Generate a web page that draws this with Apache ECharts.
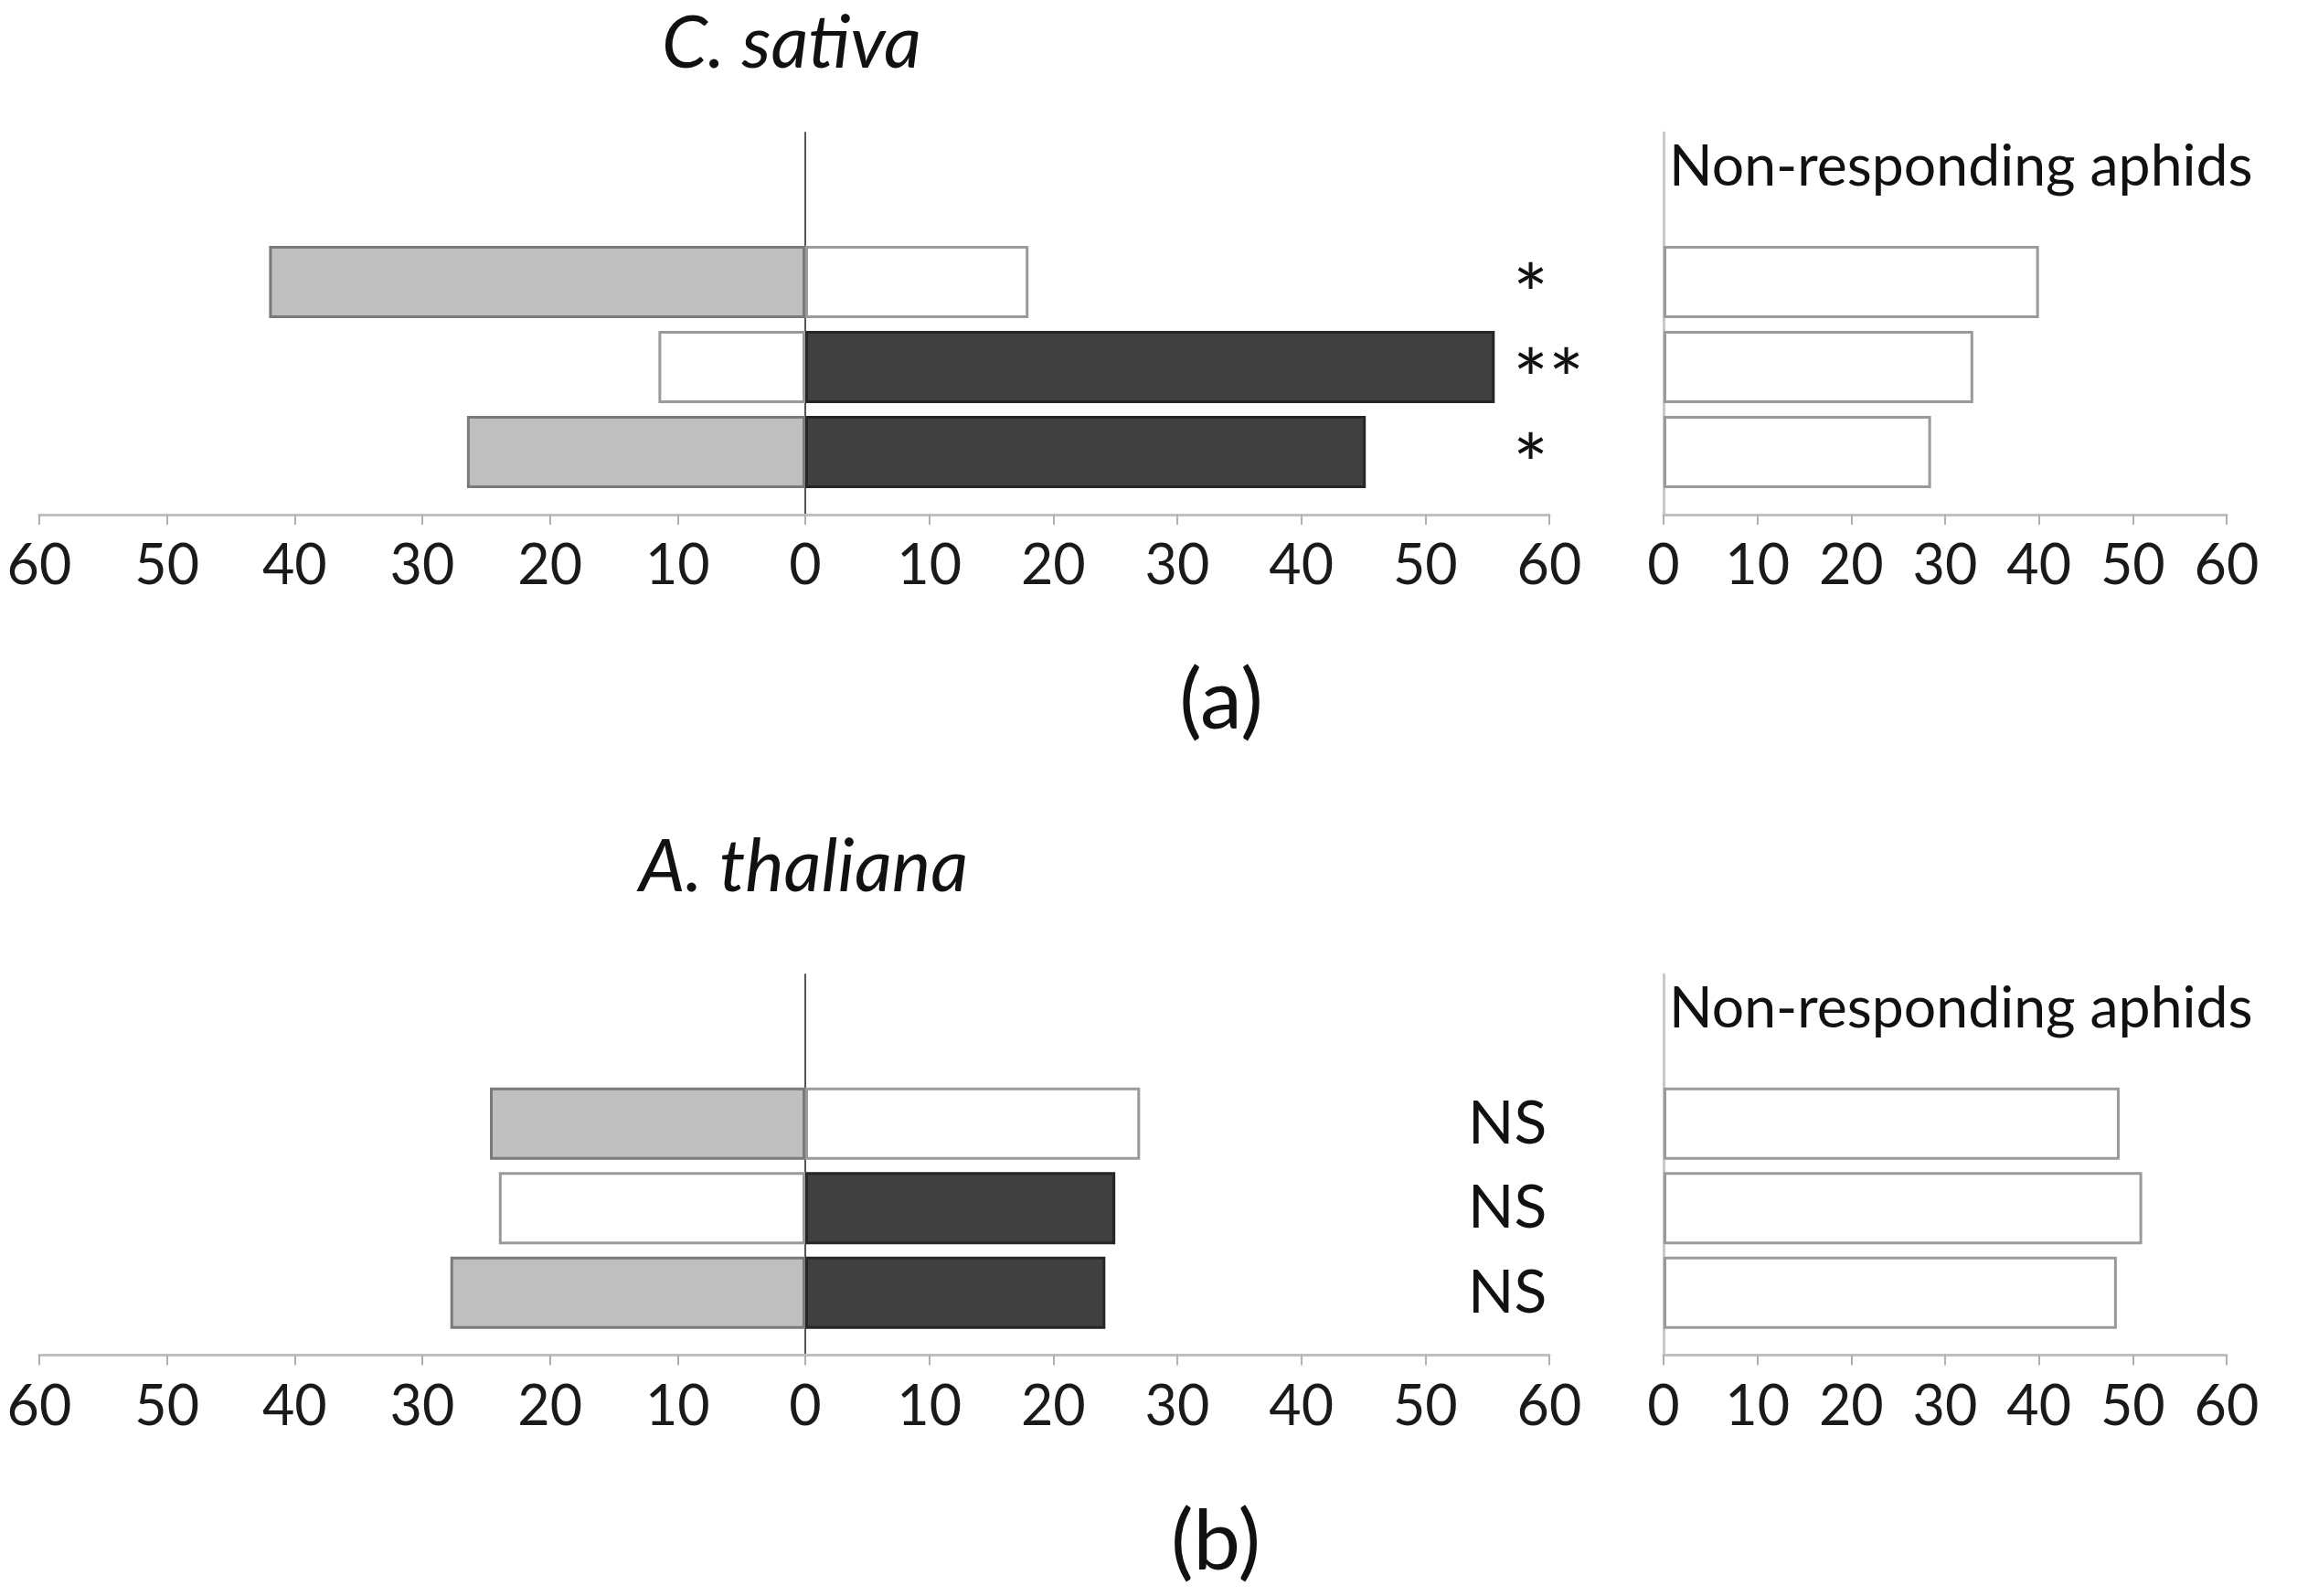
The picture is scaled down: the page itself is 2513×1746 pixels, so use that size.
<!DOCTYPE html>
<html>
<head>
<meta charset="utf-8">
<script src="https://cdn.jsdelivr.net/npm/echarts@6/dist/echarts.min.js"></script>
<style>
html,body{margin:0;padding:0;background:#fff;}
#chart{width:2513px;height:1746px;}
</style>
</head>
<body>
<div id="chart"></div>
<script>
// ---------- DATA ----------
const rows = ['1', '2', '3'];
const axisTicks = [0, 10, 20, 30, 40, 50, 60];

// Panel (a) C. sativa
const sativaLeft = [42, 11.5, 26.5];
const sativaRight = [18, 55.6, 45.2];
const sativaNonResponding = [40, 33, 28.5];
const sativaSignificance = ['*', '**', '*'];

// Panel (b) A. thaliana
const thalianaLeft = [24.7, 24, 27.8];
const thalianaRight = [27, 25, 24.2];
const thalianaNonResponding = [48.6, 51, 48.3];
const thalianaSignificance = ['NS', 'NS', 'NS'];

// ---------- STYLES ----------
const FONT = 'Lato';
const GRAY = {fill: '#bfbfbf', border: '#7a7a7a'};
const WHITE = {fill: '#ffffff', border: '#9a9a9a'};
const DARK = {fill: '#404040', border: '#262626'};
const LEFT_STYLE = [GRAY, WHITE, GRAY];
const RIGHT_STYLE = [WHITE, DARK, DARK];
const NR_STYLE = [WHITE, WHITE, WHITE];

const L = {
  leftX: 43, zeroX: 881, rightEnd: 1695,
  nrX: 1820, nrEnd: 2436,
  barW: 79, axisGap: 22
};

const panels = [
  {title: 'C. sativa', tag: '(a)', left: sativaLeft, right: sativaRight, nr: sativaNonResponding, sig: sativaSignificance,
   frameTop: 145, barTop: 262, barH: 279, titleX: 866, titleY: 48, nrTextY: 183, tagX: 1336, tagY: 767, sigX: 1655,
   sigRich: {fontSize: 92, fontFamily: FONT, color: '#111', padding: [34, 0, 0, 0]}},
  {title: 'A. thaliana', tag: '(b)', left: thalianaLeft, right: thalianaRight, nr: thalianaNonResponding, sig: thalianaSignificance,
   frameTop: 1066, barTop: 1183, barH: 277.5, titleX: 879, titleY: 949, nrTextY: 1104, tagX: 1330, tagY: 1687, sigX: 1606,
   sigRich: {fontSize: 66, fontFamily: FONT, color: '#111', padding: [0, 0, 0, 0]}}
];

const grid = [], xAxis = [], yAxis = [], series = [], graphic = [];

function valueAxis(gi, inverse, hideZero) {
  return {
    type: 'value', gridIndex: gi, min: 0, max: 60, interval: 10, inverse: inverse,
    position: 'bottom', offset: L.axisGap,
    axisLine: {show: true, lineStyle: {color: '#c0c0c0', width: 3}},
    axisTick: {show: true, length: 11, lineStyle: {color: '#b0b0b0', width: 2}},
    splitLine: {show: false},
    axisLabel: {
      show: true, margin: 26, fontFamily: FONT, fontSize: 61, color: '#1a1a1a',
      formatter: v => (hideZero && v === 0) ? '' : (axisTicks.includes(v) ? String(v) : '')
    }
  };
}
function catAxis(gi, labels, margin, rich) {
  return {
    type: 'category', gridIndex: gi, data: labels || rows, inverse: true,
    axisLine: {show: false}, axisTick: {show: false}, splitLine: {show: false},
    axisLabel: labels ? {
      show: true, interval: 0, hideOverlap: false, margin: margin, align: 'left',
      fontFamily: FONT, fontSize: rich.fontSize, color: '#111',
      formatter: v => '{s|' + v + '}', rich: {s: rich}
    } : {show: false}
  };
}
function barSeries(gi, data, styles, bw) {
  return {
    type: 'bar', xAxisIndex: gi, yAxisIndex: gi, data: data.map((v, i) => ({
      value: v, itemStyle: {color: styles[i].fill, borderColor: styles[i].border, borderWidth: bw}
    })),
    barWidth: L.barW, silent: true, animation: false
  };
}

panels.forEach(P => {
  const g0 = grid.length;
  const barBottom = P.barTop + P.barH;
  grid.push({left: L.leftX, top: P.barTop, width: L.zeroX - L.leftX, height: P.barH});
  xAxis.push(valueAxis(g0, true, false));
  yAxis.push(catAxis(g0));
  series.push(barSeries(g0, P.left, LEFT_STYLE, 3));
  grid.push({left: L.zeroX, top: P.barTop, width: L.rightEnd - L.zeroX, height: P.barH});
  xAxis.push(valueAxis(g0 + 1, false, true));
  yAxis.push(catAxis(g0 + 1));
  series.push(barSeries(g0 + 1, P.right, RIGHT_STYLE, 3));
  grid.push({left: L.nrX, top: P.barTop, width: L.nrEnd - L.nrX, height: P.barH});
  xAxis.push(valueAxis(g0 + 2, false, false));
  yAxis.push(catAxis(g0 + 2, P.sig, L.nrX - P.sigX, P.sigRich));
  series.push(barSeries(g0 + 2, P.nr, NR_STYLE, 3));
  const frameH = barBottom + L.axisGap - P.frameTop;
  [[L.zeroX, '#555555', 2], [L.nrX, '#c8c8c8', 3]].forEach(([x, c, w]) => {
    const gi = grid.length;
    grid.push({left: x, top: P.frameTop, width: 1, height: frameH});
    xAxis.push({type: 'value', gridIndex: gi, show: false, min: 0, max: 1});
    yAxis.push({type: 'value', gridIndex: gi, min: 0, max: 1, position: 'left',
      axisLine: {show: true, lineStyle: {color: c, width: w}}, axisTick: {show: false},
      axisLabel: {show: false}, splitLine: {show: false}});
  });
  graphic.push({type: 'text', x: P.titleX, y: P.titleY, style: {text: P.title, fontFamily: FONT, fontStyle: 'italic', fontSize: 80, fill: '#111', textAlign: 'center', textVerticalAlign: 'middle'}});
  graphic.push({type: 'text', x: L.nrX + 6, y: P.nrTextY, style: {text: 'Non-responding aphids', fontFamily: FONT, fontSize: 62.5, fill: '#111', textAlign: 'left', textVerticalAlign: 'middle'}});
  graphic.push({type: 'text', x: P.tagX, y: P.tagY, style: {text: P.tag, fontFamily: FONT, fontSize: 92, fill: '#111', textAlign: 'center', textVerticalAlign: 'middle'}});
});

const chart = echarts.init(document.getElementById('chart'), null, {renderer: 'canvas'});
chart.setOption({
  backgroundColor: '#ffffff',
  animation: false,
  grid, xAxis, yAxis, series, graphic
});
</script>
</body>
</html>
